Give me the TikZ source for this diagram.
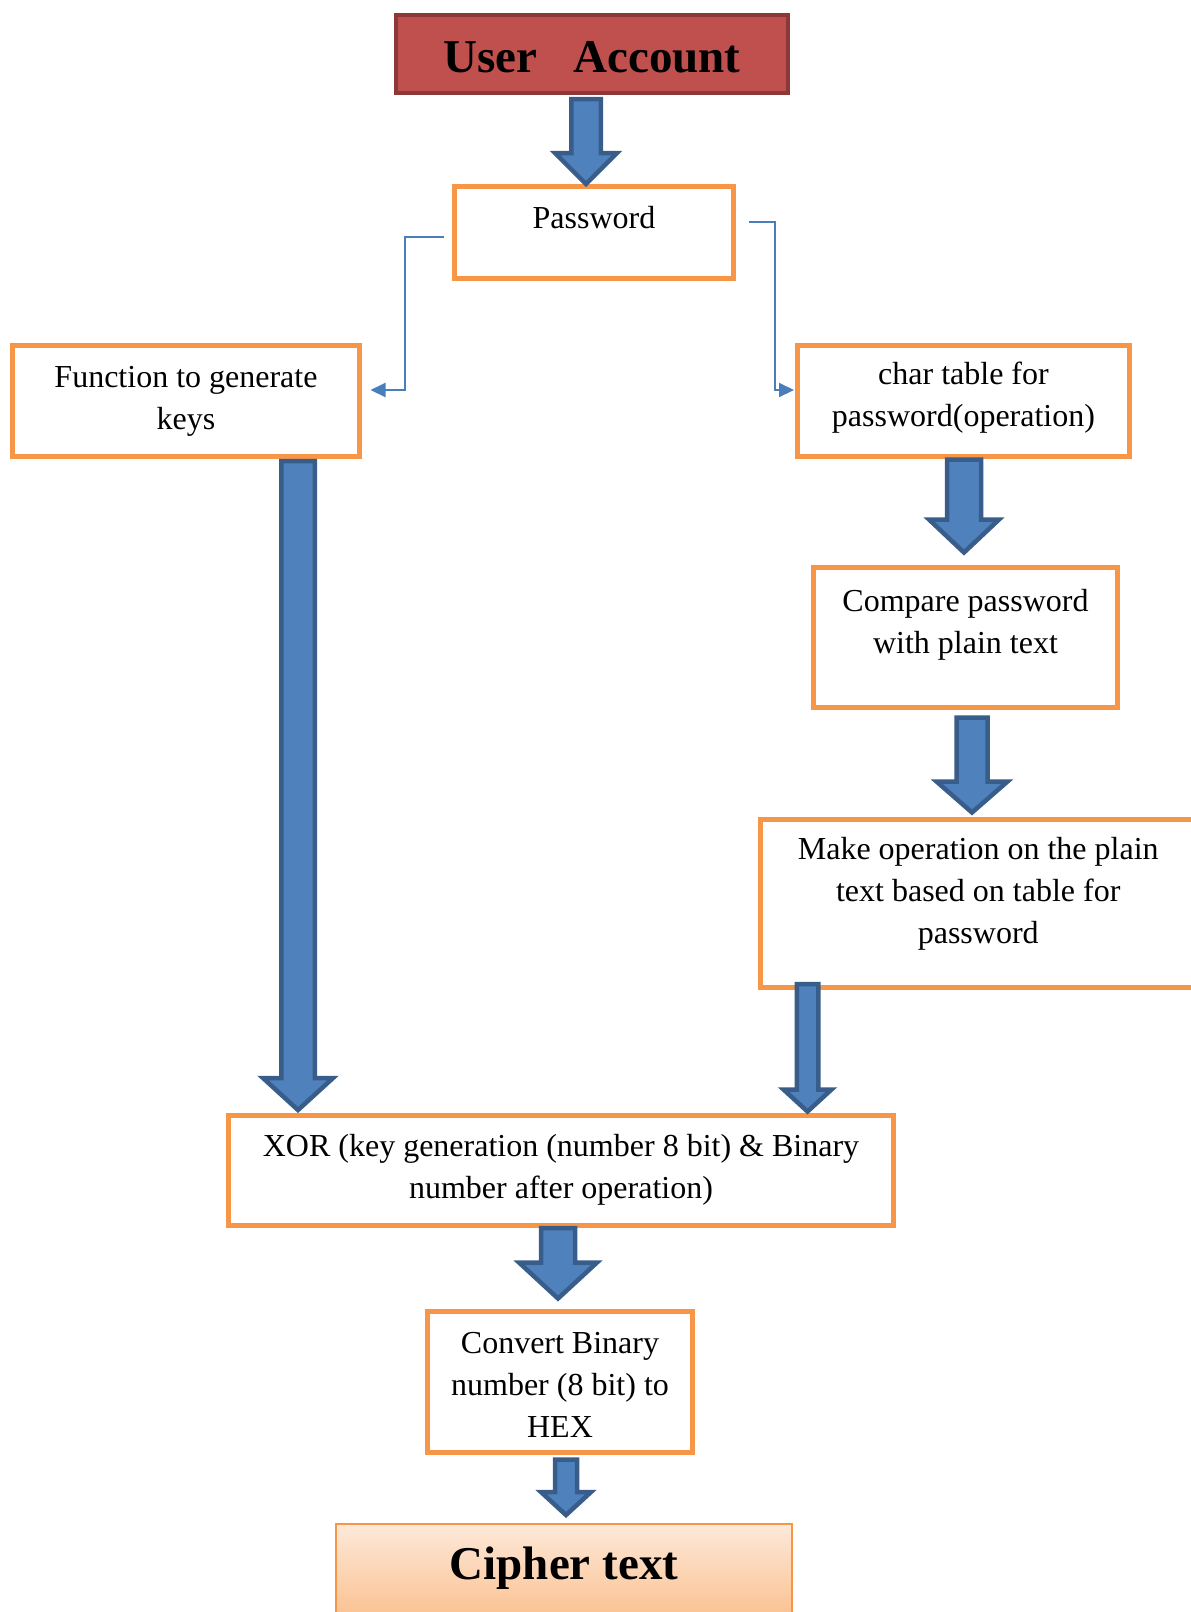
\documentclass[tikz,border=0pt]{standalone}
\usepackage{fontspec}
\setmainfont{Liberation Serif}
\usetikzlibrary{arrows.meta,calc}
\definecolor{orangeb}{HTML}{F79646}
\definecolor{blueb}{HTML}{4F81BD}
\definecolor{bluebd}{HTML}{385D8A}
\definecolor{redf}{HTML}{C0504D}
\definecolor{redd}{HTML}{8C3836}
\definecolor{conncol}{HTML}{4A7EBB}
\definecolor{citop}{HTML}{FDE9D9}
\definecolor{cibot}{HTML}{FBC08F}
% start, end, shaft half width, head half width, head length
\newcommand\blockarrow[5]{%
  \path[barrow] let \p1=#1, \p2=#2 in
    (\x1-#3pt,\y1) -- (\x1+#3pt,\y1) -- (\x1+#3pt,\y2+#5pt) -- (\x1+#4pt,\y2+#5pt)
    -- (\x1,\y2) -- (\x1-#4pt,\y2+#5pt) -- (\x1-#3pt,\y2+#5pt) -- cycle;
}
\begin{document}
\begin{tikzpicture}[x=1pt,y=-1pt,
  box/.style={draw=orangeb, line width=5pt, fill=white, inner sep=0pt},
  txt/.style={font=\fontsize{32}{42}\selectfont, align=center, inner sep=0pt},
  conn/.style={draw=conncol, line width=2pt, -{Triangle[length=15pt,width=14pt]}},
  barrow/.style={fill=blueb, draw=bluebd, line width=4.5pt, line join=miter}
]
\useasboundingbox (0,0) rectangle (1191,1612);

\node[draw=redd, fill=redf, line width=4pt, minimum width=392pt, minimum height=78pt,
      inner sep=0pt,
      label={[font=\bfseries\fontsize{47}{56}\selectfont, inner sep=0pt, yshift=-3pt]center:User\hspace{36pt}Account}]
      (ua) at (592,54) {};

\node[box, minimum width=279pt, minimum height=92pt,
      label={[txt,yshift=15pt]center:Password}] (pw) at (594,232.5) {};

\node[box, minimum width=347pt, minimum height=111pt,
      label={[txt,yshift=0pt]center:Function to generate\\keys}] (fn) at (186,401) {};

\node[box, minimum width=332pt, minimum height=111pt,
      label={[txt,yshift=3pt]center:char table for\\password(operation)}] (ct) at (963.5,401) {};

\node[box, minimum width=304pt, minimum height=140pt,
      label={[txt,yshift=12.5pt]center:Compare password\\with plain text}] (cmp) at (965.5,637.5) {};

\node[box, minimum width=435.5pt, minimum height=168pt,
      label={[txt,yshift=9.5pt]center:Make operation on the plain\\text based on table for\\password}] (mk) at (978.25,903.5) {};

\node[box, minimum width=665pt, minimum height=110pt,
      label={[txt,yshift=1pt]center:XOR (key generation (number 8 bit) \& Binary\\number after operation)}] (xor) at (561,1170.5) {};

\node[box, minimum width=265pt, minimum height=140.5pt,
      label={[txt,yshift=-3pt]center:Convert Binary\\number (8 bit) to\\HEX}] (cv) at (560,1381.75) {};

\node[draw=orangeb, line width=2pt, top color=citop, bottom color=cibot,
      minimum width=456pt, minimum height=96pt, inner sep=0pt,
      label={[font=\bfseries\fontsize{47}{56}\selectfont, inner sep=0pt, yshift=4pt]center:Cipher text}]
      (ci) at (564,1572) {};

% thin connectors
\draw[conn] ($(pw.west)+(-8.5,4.5)$) -- ++(-39,0) |- ($(fn.east)+(8.5,-11)$);
\draw[conn] ($(pw.east)+(12.5,-10.5)$) -- ++(26,0) |- ($(ct.west)+(-1,-11)$);

% block arrows
\blockarrow{($(ua.south)+(-6,4)$)}{(pw.north)}{14.75}{31}{31}
\blockarrow{($(fn.south)+(112,2)$)}{($(xor.north)+(0,-3)$)}{16.75}{35}{32}
\blockarrow{($(ct.south)+(0.5,0.5)$)}{($(cmp.north)+(0,-12.5)$)}{17}{35}{33}
\blockarrow{($(cmp.south)+(6.5,7.5)$)}{($(mk.north)+(0,-4.5)$)}{15.5}{35.5}{31}
\blockarrow{($(mk.south west)+(49.5,-6)$)}{($(xor.north)+(0,-1.5)$)}{10.75}{24}{22}
\blockarrow{($(xor.south)+(-3,0)$)}{($(cv.north)+(0,-10.5)$)}{17}{39}{36}
\blockarrow{($(cv.south)+(6,5)$)}{($(ci.north)+(0,-8)$)}{11}{25}{23}
\end{tikzpicture}
\end{document}
